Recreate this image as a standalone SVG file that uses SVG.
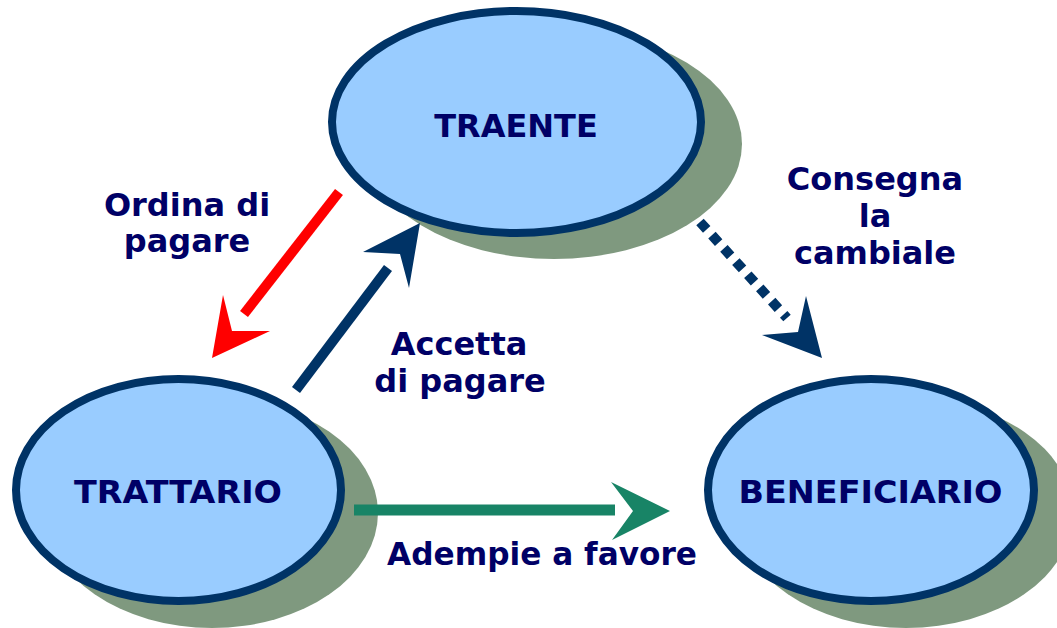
<svg xmlns="http://www.w3.org/2000/svg" width="1057" height="628" viewBox="0 0 1057 628">
<style>
.shadow{fill:#7F997F}
.node{fill:#99CCFF;stroke:#003366;stroke-width:8}
.lbl{font-family:"DejaVu Sans","Verdana",sans-serif;font-weight:bold;font-size:32px;fill:#000066;text-anchor:middle}
</style>
<rect width="1057" height="628" fill="#FFFFFF"/>
<g id="traente">
<ellipse class="shadow" cx="554" cy="144" rx="188" ry="115"/>
<ellipse class="node" cx="516.5" cy="122" rx="184.5" ry="111"/>
<text class="lbl" x="516" y="137">TRAENTE</text>
</g>
<g id="trattario">
<ellipse class="shadow" cx="212" cy="513" rx="166" ry="115"/>
<ellipse class="node" cx="178.5" cy="490" rx="162.5" ry="111"/>
<text class="lbl" x="178" y="503" textLength="208" lengthAdjust="spacingAndGlyphs">TRATTARIO</text>
</g>
<g id="beneficiario">
<ellipse class="shadow" cx="906" cy="513" rx="167" ry="115"/>
<ellipse class="node" cx="871" cy="490" rx="163" ry="111"/>
<text class="lbl" x="870.5" y="503" textLength="264" lengthAdjust="spacingAndGlyphs">BENEFICIARIO</text>
</g>
<g id="connectors">
<line x1="339" y1="192" x2="244" y2="314" stroke="#FF0000" stroke-width="10"/>
<polygon points="212,358 223,295 232,331 270,331" fill="#FF0000"/>
<line x1="296" y1="390" x2="388" y2="268" stroke="#003366" stroke-width="10"/>
<polygon points="420,223 363,252 400,254 409,288" fill="#003366"/>
<line x1="700" y1="222" x2="787" y2="318" stroke="#003366" stroke-width="10" stroke-dasharray="10 7.8"/>
<polygon points="822,358 762,335 798,332 806,296" fill="#003366"/>
<line x1="354" y1="510" x2="615" y2="510" stroke="#188466" stroke-width="11"/>
<polygon points="670,511 611,482 633,511 612,540" fill="#188466"/>
</g>
<g id="labels">
<text class="lbl" x="187" y="216">Ordina di</text>
<text class="lbl" x="187" y="252">pagare</text>
<text class="lbl" x="875" y="190">Consegna</text>
<text class="lbl" x="875" y="227">la</text>
<text class="lbl" x="875" y="264">cambiale</text>
<text class="lbl" x="459" y="355">Accetta</text>
<text class="lbl" x="460" y="392">di pagare</text>
<text class="lbl" x="542" y="565" textLength="310" lengthAdjust="spacingAndGlyphs">Adempie a favore</text>
</g>
</svg>
